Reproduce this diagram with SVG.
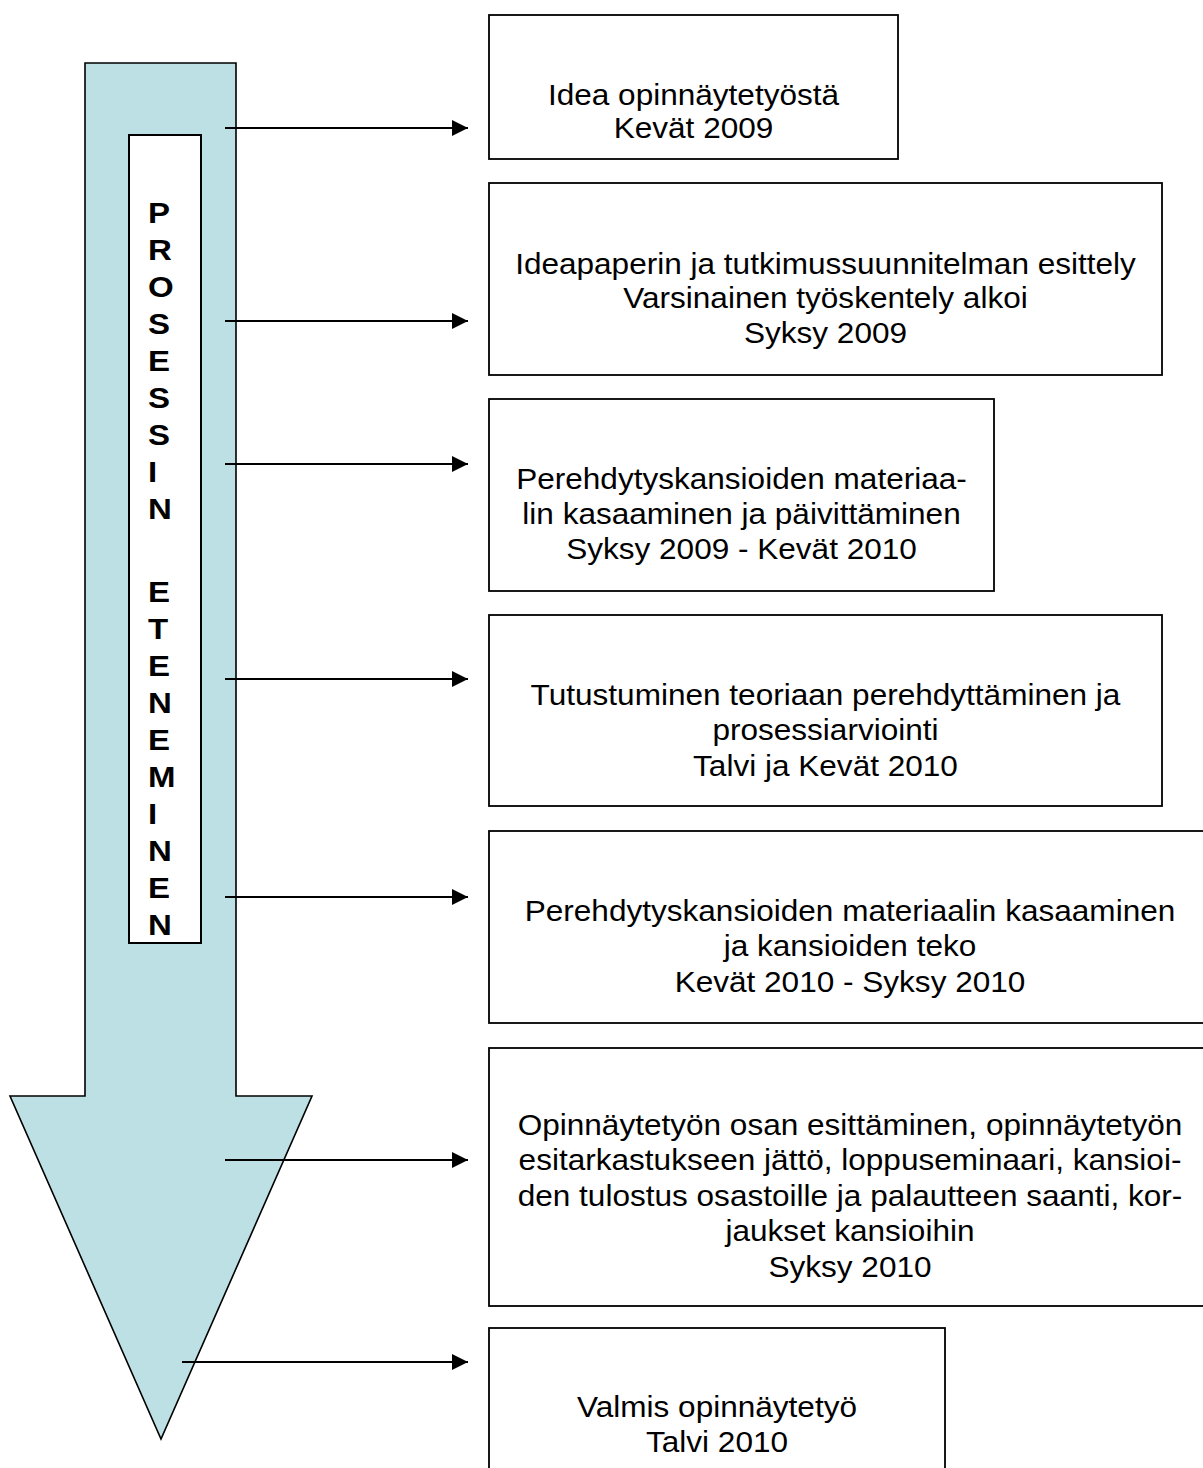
<svg xmlns="http://www.w3.org/2000/svg" width="1203" height="1468" viewBox="0 0 1203 1468">
  <defs>
    <style>
      .box { fill: #ffffff; stroke: #000000; stroke-width: 1.8; }
      .t { font-family: "Liberation Sans", Arial, sans-serif; font-size: 29.5px; fill: #000000; text-anchor: middle; }
      .v { font-family: "Liberation Sans", Arial, sans-serif; font-size: 30px; font-weight: bold; fill: #000000; }
      .conn { stroke: #000000; stroke-width: 2; fill: none; marker-end: url(#ah); }
    </style>
    <marker id="ah" viewBox="0 0 16 16" refX="16" refY="8" markerWidth="16" markerHeight="16" markerUnits="userSpaceOnUse" orient="auto">
      <path d="M0,0 L16,8 L0,16 Z" fill="#000000"/>
    </marker>
  </defs>
  <rect width="1203" height="1468" fill="#ffffff"/>

  <g id="process-arrow">
    <polygon points="85,63 236,63 236,1096 312,1096 161,1439 10,1096 85,1096" fill="#BCE0E3" stroke="#000000" stroke-width="1.6"/>
    <rect x="129" y="135" width="72" height="808" fill="#ffffff" stroke="#000000" stroke-width="2"/>
    <g transform="translate(148,0) scale(1.1,1)">
      <text class="v" x="0" y="223">P</text>
      <text class="v" x="0" y="260">R</text>
      <text class="v" x="0" y="297">O</text>
      <text class="v" x="0" y="334">S</text>
      <text class="v" x="0" y="371">E</text>
      <text class="v" x="0" y="408">S</text>
      <text class="v" x="0" y="445">S</text>
      <text class="v" x="0" y="482">I</text>
      <text class="v" x="0" y="519">N</text>
      <text class="v" x="0" y="602">E</text>
      <text class="v" x="0" y="639">T</text>
      <text class="v" x="0" y="676">E</text>
      <text class="v" x="0" y="713">N</text>
      <text class="v" x="0" y="750">E</text>
      <text class="v" x="0" y="787">M</text>
      <text class="v" x="0" y="824">I</text>
      <text class="v" x="0" y="861">N</text>
      <text class="v" x="0" y="898">E</text>
      <text class="v" x="0" y="935">N</text>
    </g>
  </g>

  <g id="connectors">
    <line class="conn" x1="225" y1="128" x2="468" y2="128"/>
    <line class="conn" x1="225" y1="321" x2="468" y2="321"/>
    <line class="conn" x1="225" y1="464" x2="468" y2="464"/>
    <line class="conn" x1="225" y1="679" x2="468" y2="679"/>
    <line class="conn" x1="225" y1="897" x2="468" y2="897"/>
    <line class="conn" x1="225" y1="1160" x2="468" y2="1160"/>
    <line class="conn" x1="182" y1="1362" x2="468" y2="1362"/>
  </g>

  <g id="node1">
    <rect class="box" x="489" y="15" width="409" height="144"/>
    <g transform="translate(693.5,0) scale(1.07,1)">
      <text class="t" x="0" y="105">Idea opinnäytetyöstä</text>
      <text class="t" x="0" y="138">Kevät 2009</text>
    </g>
  </g>

  <g id="node2">
    <rect class="box" x="489" y="183" width="673" height="192"/>
    <g transform="translate(825.5,0) scale(1.07,1)">
      <text class="t" x="0" y="274">Ideapaperin ja tutkimussuunnitelman esittely</text>
      <text class="t" x="0" y="308">Varsinainen työskentely alkoi</text>
      <text class="t" x="0" y="343">Syksy 2009</text>
    </g>
  </g>

  <g id="node3">
    <rect class="box" x="489" y="399" width="505" height="192"/>
    <g transform="translate(741.5,0) scale(1.07,1)">
      <text class="t" x="0" y="489">Perehdytyskansioiden materiaa-</text>
      <text class="t" x="0" y="524">lin kasaaminen ja päivittäminen</text>
      <text class="t" x="0" y="559">Syksy 2009 - Kevät 2010</text>
    </g>
  </g>

  <g id="node4">
    <rect class="box" x="489" y="615" width="673" height="191"/>
    <g transform="translate(825.5,0) scale(1.07,1)">
      <text class="t" x="0" y="705">Tutustuminen teoriaan perehdyttäminen ja</text>
      <text class="t" x="0" y="740">prosessiarviointi</text>
      <text class="t" x="0" y="776">Talvi ja Kevät 2010</text>
    </g>
  </g>

  <g id="node5">
    <rect class="box" x="489" y="831" width="722" height="192"/>
    <g transform="translate(850,0) scale(1.07,1)">
      <text class="t" x="0" y="921">Perehdytyskansioiden materiaalin kasaaminen</text>
      <text class="t" x="0" y="956">ja kansioiden teko</text>
      <text class="t" x="0" y="992">Kevät 2010 - Syksy 2010</text>
    </g>
  </g>

  <g id="node6">
    <rect class="box" x="489" y="1048" width="722" height="258"/>
    <g transform="translate(850,0) scale(1.07,1)">
      <text class="t" x="0" y="1135">Opinnäytetyön osan esittäminen, opinnäytetyön</text>
      <text class="t" x="0" y="1170.5">esitarkastukseen jättö, loppuseminaari, kansioi-</text>
      <text class="t" x="0" y="1206">den tulostus osastoille ja palautteen saanti, kor-</text>
      <text class="t" x="0" y="1241.5">jaukset kansioihin</text>
      <text class="t" x="0" y="1277">Syksy 2010</text>
    </g>
  </g>

  <g id="node7">
    <rect class="box" x="489" y="1328" width="456" height="160"/>
    <g transform="translate(717,0) scale(1.07,1)">
      <text class="t" x="0" y="1417">Valmis opinnäytetyö</text>
      <text class="t" x="0" y="1452">Talvi 2010</text>
    </g>
  </g>
</svg>
